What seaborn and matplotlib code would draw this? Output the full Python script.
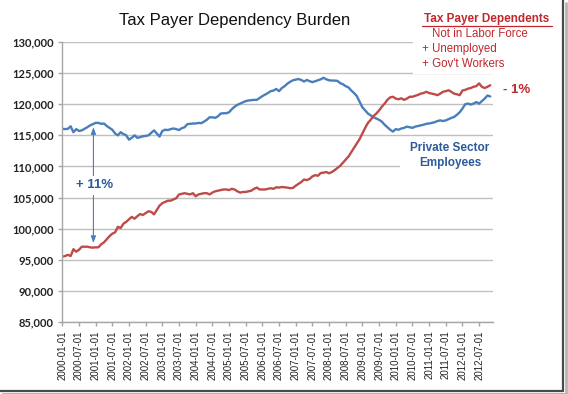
import pandas as pd
import matplotlib
matplotlib.use('Agg')
import matplotlib.pyplot as plt
from matplotlib.lines import Line2D
from matplotlib.patches import Rectangle
import seaborn as sns

# monthly values, 2000-01 .. 2012-11
start_year = 2000
private_sector = [
    116050, 116000, 116050, 116450, 115500, 116000, 115700, 115800, 116050, 116300,
    116600, 116800, 117000, 117000, 116850, 116900, 116500, 116200, 115900, 115300,
    115000, 115500, 115200, 115000, 114300, 114600, 115000, 114600, 114700, 114850,
    114900, 115000, 115400, 115800, 115300, 114800, 115700, 115900, 115850, 116000,
    116100, 116000, 115850, 116150, 116300, 116800, 116850, 116900, 116900, 117000,
    116950, 117200, 117500, 117900, 117900, 117800, 118050, 118500, 118550, 118550,
    118700, 119200, 119600, 119900, 120100, 120300, 120500, 120600, 120650, 120700,
    120700, 121000, 121300, 121550, 121800, 122100, 122200, 122450, 122100, 122600,
    122900, 123300, 123600, 123850, 123950, 124050, 123900, 123650, 123900, 123700,
    123550, 123700, 123850, 124000, 124250, 124000, 123850, 123800, 123800, 123750,
    123400, 123200, 122900, 122700, 122200, 121800, 121300, 120400, 119500, 119000,
    118500, 118200, 117900, 117700, 117500, 117200, 116700, 116300, 115900, 115600,
    116000, 115900, 116100, 116200, 116400, 116300, 116200, 116400, 116500, 116600,
    116700, 116850, 116900, 117000, 117100, 117300, 117400, 117300, 117400, 117600,
    117800, 117950, 118300, 118700, 119300, 120000, 120100, 119950, 120100, 120350,
    120100, 120500, 120900, 121400, 121250,
]
dependents = [
    95500, 95600, 95800, 95600, 96700, 96300, 96600, 97100, 97100, 97100,
    97000, 96950, 97000, 97000, 97500, 97800, 98300, 98800, 99200, 99400,
    100300, 100100, 100800, 101100, 101500, 101900, 101600, 102000, 102350, 102200,
    102500, 102800, 102700, 102300, 103000, 103700, 104100, 104300, 104500, 104500,
    104700, 104900, 105500, 105600, 105700, 105600, 105500, 105700, 105200, 105500,
    105600, 105700, 105700, 105500, 105800, 106000, 106100, 106200, 106300, 106300,
    106200, 106400, 106300, 106000, 105800, 105900, 105900, 106000, 106100, 106400,
    106600, 106300, 106300, 106300, 106400, 106500, 106400, 106650, 106600, 106700,
    106650, 106600, 106500, 106550, 106900, 107200, 107500, 107900, 107800, 108000,
    108400, 108600, 108500, 108950, 109000, 109100, 108900, 109100, 109400, 109750,
    110100, 110600, 111100, 111600, 112300, 113000, 113700, 114400, 115300, 116200,
    117000, 117500, 118100, 118500, 119000, 119600, 120100, 120700, 121100, 121200,
    120900, 120800, 120950, 120700, 120900, 121200, 121200, 121350, 121500, 121700,
    121800, 122000, 121800, 121700, 121600, 121450, 121700, 122000, 122100, 122250,
    122000, 121700, 121600, 121450, 122200, 122300, 122500, 122600, 122800, 122900,
    123350, 122800, 122600, 122800, 123050,
]
y_ticks = [85000, 90000, 95000, 100000, 105000, 110000, 115000, 120000, 125000, 130000]
legend_lines = ['Not in Labor Force', '+ Unemployed', "+ Gov't Workers"]

BLUE = '#4A7EBB'
RED = '#BE4B48'
W, H = 568, 394


def px(x, y):
    '''pixel position (from top-left) -> figure fraction'''
    return x / W, 1 - y / H


months = list(range(len(private_sector)))
df = pd.concat([
    pd.DataFrame({'month': months, 'value': private_sector, 'series': 'private'}),
    pd.DataFrame({'month': months, 'value': dependents, 'series': 'dependents'}),
])

sns.set_style('white')
plt.rcParams['font.family'] = ['Liberation Sans', 'DejaVu Sans']

fig = plt.figure(figsize=(W / 100, H / 100), dpi=100)
l, b = px(62.3, 322)
r, t = px(493, 42)
ax = fig.add_axes([l, b, r - l, t - b])

sns.lineplot(data=df, x='month', y='value', hue='series',
             palette={'private': BLUE, 'dependents': RED},
             linewidth=1.7, legend=False, ax=ax)

ax.set_xlim(0, 155)
ax.set_ylim(85000, 130000)
ax.set_yticks(y_ticks)
ax.set_yticklabels([f'{v:,}' for v in y_ticks], fontfamily='Lato',
                   fontweight='bold', fontsize=8, color='#222222')
xt = list(range(0, len(months), 6))
ax.set_xticks(xt)
ax.set_xticklabels([f"{start_year + m // 12}-{'01' if m % 12 == 0 else '07'}-01" for m in xt],
                   rotation=90, fontsize=7, color='#222222')
ax.set_xlabel('')
ax.set_ylabel('')
ax.tick_params(bottom=True, left=True, length=3, width=1, color='#A6A6A6', pad=3)
ax.yaxis.grid(True, color='#BFBFBF', linewidth=1)
ax.set_axisbelow(True)
for s in ['top', 'right']:
    ax.spines[s].set_visible(False)
for s in ['left', 'bottom']:
    ax.spines[s].set_color('#A6A6A6')
    ax.spines[s].set_linewidth(1)

# +11% arrow
ax.annotate('', xy=(11.2, 97700), xytext=(11.2, 116300),
            arrowprops=dict(arrowstyle='<|-|>,head_length=0.4,head_width=0.15',
                            color=BLUE, lw=0.8, shrinkA=0, shrinkB=0))
ax.text(11.5, 107000, '+ 11%', ha='center', va='center', fontsize=9.5,
        fontweight='bold', color='#2C5A9A', zorder=5,
        bbox=dict(facecolor='white', edgecolor='none', pad=2.5))

# white boxes behind the side texts (hide gridlines)
fig.patches.append(Rectangle(px(413, 74), 150 / W, 66 / H, transform=fig.transFigure,
                             facecolor='white', edgecolor='none', zorder=1))
fig.patches.append(Rectangle(px(400, 172), 95 / W, 33 / H, transform=fig.transFigure,
                             facecolor='white', edgecolor='none', zorder=1))

fig.text(*px(235, 21), 'Tax Payer Dependency Burden', ha='center', va='center',
         fontsize=12, color='#111111')

fig.text(*px(487, 19), 'Tax Payer Dependents', ha='center', va='center',
         fontsize=8.5, fontweight='bold', color='#C0282D', zorder=3)
fig.add_artist(Line2D([422 / W, 552 / W], [1 - 25.5 / H, 1 - 25.5 / H],
                      color='#C0282D', lw=0.9, zorder=3))
fig.text(*px(431.5, 34), legend_lines[0], ha='left', va='center', fontsize=8.3,
         color='#C0282D', zorder=3)
fig.text(*px(421.5, 49), legend_lines[1], ha='left', va='center', fontsize=8.3,
         color='#C0282D', zorder=3)
fig.text(*px(421.5, 64), legend_lines[2], ha='left', va='center', fontsize=8.3,
         color='#C0282D', zorder=3)

fig.text(*px(517, 90), '- 1%', ha='center', va='center', fontsize=9.5,
         fontweight='bold', color='#C0282D', zorder=3)

fig.text(*px(450, 148), 'Private Sector', ha='center', va='center', fontsize=8.5,
         fontweight='bold', color='#2C5A9A', zorder=3)
fig.text(*px(450, 163), 'Employees', ha='center', va='center', fontsize=8.5,
         fontweight='bold', color='#2C5A9A', zorder=3)

# screenshot frame with shadow
fig.add_artist(Line2D([563 / W, 563 / W], [1 - 391 / H, 1.0], color='#4A4A4A', lw=1.6))
fig.add_artist(Line2D([0, 563 / W], [1 - 391 / H, 1 - 391 / H], color='#4A4A4A', lw=1.6))
fig.add_artist(Line2D([566 / W, 566 / W], [1 - 393 / H, 1 - 3 / H], color='#B5B5B5', lw=2))
fig.add_artist(Line2D([3 / W, 566 / W], [1 - 393.5 / H, 1 - 393.5 / H], color='#B5B5B5', lw=1.5))

fig.savefig('out.png', dpi=100, facecolor='white')
